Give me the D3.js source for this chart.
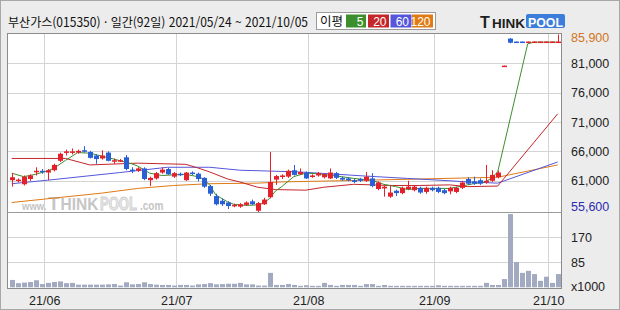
<!DOCTYPE html>
<html lang="ko">
<head>
<meta charset="utf-8">
<title>부산가스 일간</title>
<script src="https://cdn.jsdelivr.net/npm/d3@7"></script>
<style>
  body { margin: 0; background: #fff; }
  text { font-family: "Liberation Sans", Arial, sans-serif; }
  .kr { font-family: "Noto Sans CJK KR", sans-serif; }
</style>
</head>
<body>
<div id="chart"></div>
<script>
// ---- data ----
var open = [
  61100,61000,60400,61300,62500,62700,62400,62800,64400,65800,
  65800,65800,66200,65900,65300,64800,65800,64300,64300,65000,
  62900,62700,63100,61100,61400,62400,63000,61700,62200,61100,
  62400,62200,61500,60100,58400,57600,57300,56800,56600,56900,
  57500,55900,57000,58200,61200,61700,61700,62800,62100,62400,
  61700,61900,61600,61400,62300,61500,61400,61100,61300,61000,
  61400,59600,59700,58300,59300,58900,59600,59400,59800,59100,
  59800,59800,59400,59200,59100,59800,61300,60900,61100,60700,
  61000,61600,80600,85200,84700,84700,84600,84600,84600,84600,
  84600,84600];
var high = [
  62300,61400,61900,62100,63300,63000,63000,63900,65800,66300,
  66500,66300,66900,66100,65500,66200,66000,64800,64700,65400,
  63300,63300,63300,61700,62500,63300,63200,62500,62400,62500,
  62600,62400,61600,60300,58800,58000,57500,57100,57200,57500,
  57800,57400,58100,65900,62000,62100,62900,63700,63100,62600,
  62100,62500,62300,63100,62500,61700,61600,61300,61500,62500,
  62300,60900,60200,60300,59500,60000,61000,60200,60000,60000,
  60000,60000,59600,60000,60000,61000,61600,61700,61400,63700,
  62800,62700,80600,85300,84700,84700,84700,84700,84700,84700,
  84700,85900];
var low = [
  60000,60700,60200,61000,61900,62200,61100,62600,64200,65300,
  65500,65600,65800,64800,63900,64600,64300,63900,64200,62800,
  62300,62500,61100,60100,61200,62200,62000,61500,61800,61000,
  62000,60900,59800,58400,56800,56700,56200,56500,56400,56700,
  56900,55600,56900,58000,60300,61300,61500,61900,62000,61300,
  61500,61700,61400,61300,61300,61000,60900,60600,60800,60800,
  59900,59400,58300,58100,58400,58700,59400,59200,58800,58800,
  59200,58900,58700,58700,58900,59600,60300,60300,60300,60500,
  60800,61400,80600,84400,84600,84600,84600,84600,84600,84600,
  84600,84600];
var close = [
  61600,61200,61700,61900,62700,62500,62800,63700,65600,66000,
  66000,66100,66000,64900,64700,65300,64400,64500,64500,63000,
  62700,63100,61300,61500,62300,62900,62100,62300,62100,62400,
  62300,61300,60000,58800,57000,57000,56700,56900,57000,57300,
  57000,57200,57800,60800,61800,61900,62700,62000,62500,61400,
  61900,62300,62100,62400,61500,61200,61100,60800,61000,61700,
  60100,60700,60000,59000,58900,59800,60000,60000,59000,59800,
  59400,59100,58900,59800,59800,60700,60500,60500,60500,61000,
  62000,62400,80600,84500,84600,84600,84700,84700,84700,84700,
  84700,84700];
// volume in thousands
var volume = [
  25,14,16,18,24,11,15,18,20,14,
  15,9,9,9,9,9,10,11,6,17,
  10,11,17,11,9,8,8,6,8,8,
  6,10,11,14,10,11,12,12,15,10,
  10,6,6,49,8,8,11,8,5,7,
  5,5,15,8,5,8,8,8,5,11,
  11,5,8,5,5,5,5,5,5,5,
  5,7,5,5,5,5,5,5,5,15,
  8,8,28,249,86,49,56,45,22,36,
  15,45];

// moving averages: [day index, value]
var ma5 = [[0,62300],[2,61700],[4,62100],[6,62700],[7,63100],[9,64500],[11,65800],[13,65700],
  [15,65200],[17,64700],[20,63900],[21,63500],[22,62900],[23,62300],[25,61900],[27,62000],
  [29,62100],[31,61700],[32,61300],[33,60300],[34,58600],[36,57400],[37,57000],[39,56800],
  [41,56900],[42,57200],[43,58000],[44,59300],[45,60000],[47,61700],[49,62300],[51,62200],
  [55,61700],[57,61400],[60,61100],[62,60400],[64,60000],[66,59500],[68,59700],[73,59700],
  [76,60300],[77,60500],[79,60800],[80,61500],[81,62500],[86,84300],[87,84600],[91,84600]];
var ma20 = [[0,64800],[9,64800],[13,63700],[21,64000],[29,63800],[31,63200],[33,62500],
  [36,61300],[38,60800],[41,59900],[44,59500],[49,59400],[52,59900],[57,60400],[63,60200],
  [68,60200],[73,60300],[76,60000],[81,60100],[91,72400]];
var ma60 = [[0,60500],[6,61100],[18,62400],[26,63300],[33,63300],[38,62800],[48,62500],
  [59,61800],[66,61400],[73,61000],[76,60800],[81,60600],[91,64200]];
var ma120 = [[0,57300],[15,58900],[21,59700],[27,60200],[33,60500],[41,60600],[45,60800],
  [59,61100],[68,61300],[81,61600],[91,63700]];

var priceTicks = [81000, 76000, 71000, 66000, 61000];
var priceMax = 85900, priceMin = 55600;
var volTicks = [170, 85];
var monthIdx = [6, 28, 50, 71, 90];
var monthLabels = ["21/06", "21/07", "21/08", "21/09", "21/10"];
var maNames = ["5", "20", "60", "120"];
var maColors = ["#3c8f2c", "#c4262a", "#5656dc", "#e07a14"];

// ---- setup ----
var w = 620, h = 310;
var pl = 7.5, pr = 561.5, pt = 33.5, pm = 212.5, pb = 288.5;
var upColor = "#e4212b", downColor = "#2a60d6";

var svg = d3.select("#chart").append("svg")
  .attr("width", w).attr("height", h);

svg.append("rect").attr("x", 0.5).attr("y", 0.5).attr("width", w - 1).attr("height", h - 1)
  .attr("fill", "#ececec").attr("stroke", "#a8a8a8");
svg.append("rect").attr("x", pl).attr("y", pt).attr("width", pr - pl).attr("height", pb - pt)
  .attr("fill", "#fff");

var x = d3.scaleBand().domain(d3.range(close.length)).range([8.7, 560.7]).padding(0);
var cx = function(i) { return x(i) + x.bandwidth() / 2; };
var y = d3.scaleLinear().domain([priceMin, priceMax]).range([pm, 34.5]);
var yv = d3.scaleLinear().domain([0, 170]).range([287.3, 237.3]);

// gridlines
var grid = svg.append("g").attr("stroke", "#d4d4d4").attr("stroke-width", 1);
grid.selectAll(".hp").data(priceTicks).enter().append("line")
  .attr("x1", pl).attr("x2", pr)
  .attr("y1", function(d) { return Math.round(y(d)) + 0.5; })
  .attr("y2", function(d) { return Math.round(y(d)) + 0.5; });
grid.selectAll(".hv").data(volTicks).enter().append("line")
  .attr("x1", pl).attr("x2", pr)
  .attr("y1", function(d) { return Math.round(yv(d)) + 0.5; })
  .attr("y2", function(d) { return Math.round(yv(d)) + 0.5; });
grid.selectAll(".vv").data(monthIdx).enter().append("line")
  .attr("x1", function(d) { return Math.floor(x(d)) + 0.5; })
  .attr("x2", function(d) { return Math.floor(x(d)) + 0.5; })
  .attr("y1", pt).attr("y2", pb);

// watermark, pieces placed side by side (sizes chosen so they don't collide)
var wmParts = [
  {t: "www.", x: 22, size: 9.5, sy: 1.2, fill: "#c4c4c4"},
  {t: "T", x: 48, size: 19, sy: 1, fill: "#c6c6c6"},
  {t: "HINK", x: 60.5, size: 15.5, sy: 1.1, fill: "#c6c6c6"},
  {t: "POOL", x: 100, size: 13, sy: 1.35, fill: "#e8e8e8", stroke: "#cfcfcf"},
  {t: ".com", x: 140, size: 10, sy: 1.2, fill: "#c4c4c4"}
];
svg.append("g").attr("font-weight", "bold").selectAll("text").data(wmParts).enter().append("text")
  .attr("transform", function(d) { return "translate(" + d.x + ",210) scale(1," + d.sy + ")"; })
  .attr("font-size", function(d) { return d.size + "px"; })
  .attr("fill", function(d) { return d.fill; })
  .attr("stroke", function(d) { return d.stroke || "none"; })
  .attr("stroke-width", 0.7)
  .text(function(d) { return d.t; });

// moving average lines
var line = d3.line().x(function(d) { return cx(d[0]); }).y(function(d) { return y(d[1]); });
[ma120, ma60, ma20, ma5].forEach(function(s, k) {
  svg.append("path").datum(s).attr("d", line)
    .attr("fill", "none").attr("stroke", maColors[3 - k]).attr("stroke-width", 1);
});

// candles
var candles = svg.append("g").selectAll("g").data(close).enter().append("g")
  .attr("fill", function(d, i) { return close[i] >= open[i] ? upColor : downColor; })
  .attr("stroke", "none");
candles.append("rect")
  .attr("x", function(d, i) { return Math.round(cx(i)); })
  .attr("width", 1)
  .attr("y", function(d, i) { return y(high[i]); })
  .attr("height", function(d, i) { return Math.max(1, y(low[i]) - y(high[i])); });
candles.append("rect")
  .attr("x", function(d, i) { return Math.round(cx(i)) - 2; })
  .attr("width", 5)
  .attr("y", function(d, i) { return y(Math.max(open[i], close[i])); })
  .attr("height", function(d, i) { return Math.max(1.5, Math.abs(y(open[i]) - y(close[i]))); });

// volume bars
svg.append("g").selectAll("rect").data(volume).enter().append("rect")
  .attr("x", function(d, i) { return Math.round(cx(i)) - 2; })
  .attr("width", 5)
  .attr("y", function(d) { return yv(d); })
  .attr("height", function(d) { return yv(0) - yv(d); })
  .attr("fill", "#a2aac2");

// frame
svg.append("rect").attr("x", pl).attr("y", pt).attr("width", pr - pl).attr("height", pb - pt)
  .attr("fill", "none").attr("stroke", "#8c8c8c");
svg.append("line").attr("x1", pl).attr("x2", pr).attr("y1", pm).attr("y2", pm)
  .attr("stroke", "#9a9a9a");

// right axis labels
var fmt = d3.format(",");
var lab = svg.append("g").attr("font-size", "12.5px").attr("fill", "#222");
lab.selectAll(".pt").data(priceTicks).enter().append("text")
  .attr("x", 571).attr("y", function(d) { return y(d) + 4.5; }).text(fmt);
lab.append("text").attr("x", 571).attr("y", y(priceMax) + 7.5).attr("fill", "#d07522").text(fmt(priceMax));
lab.append("text").attr("x", 571).attr("y", y(priceMin) - 1.5).attr("fill", "#2b2bb0").text(fmt(priceMin));
lab.selectAll(".vt").data(volTicks).enter().append("text")
  .attr("x", 571).attr("y", function(d) { return yv(d) + 5; }).text(function(d) { return d; });
lab.append("text").attr("x", 571).attr("y", 291).text("x1000");

// month labels
svg.append("g").attr("font-size", "12.5px").attr("fill", "#222").attr("text-anchor", "middle")
  .selectAll("text").data(monthIdx).enter().append("text")
  .attr("x", function(d) { return x(d); }).attr("y", 305)
  .text(function(d, i) { return monthLabels[i]; });

// header
svg.append("text").attr("class", "kr").attr("x", 8).attr("y", 26.5)
  .attr("font-size", "12.5px").attr("fill", "#111")
  .attr("textLength", 300).attr("lengthAdjust", "spacingAndGlyphs")
  .text("부산가스(015350) · 일간(92일) 2021/05/24 ~ 2021/10/05");

// MA legend
svg.append("rect").attr("x", 316.5).attr("y", 12.5).attr("width", 119).attr("height", 17)
  .attr("fill", "#fff").attr("stroke", "#9a9a9a");
svg.append("text").attr("class", "kr").attr("x", 320).attr("y", 26)
  .attr("font-size", "12.5px").attr("fill", "#111").text("이평");
var boxX = [346, 368, 390.5, 412], boxW = [20, 21, 21, 21];
var leg = svg.append("g").selectAll("g").data(maNames).enter().append("g");
leg.append("rect").attr("x", function(d, i) { return boxX[i]; }).attr("y", 14.5)
  .attr("width", function(d, i) { return boxW[i]; }).attr("height", 13)
  .attr("fill", function(d, i) { return maColors[i]; });
leg.append("text").attr("x", function(d, i) { return boxX[i] + boxW[i] - 2.5; }).attr("y", 25.5)
  .attr("text-anchor", "end").attr("font-size", "12px").attr("fill", "#fff").text(function(d) { return d; });

// logo
var logo = svg.append("g").attr("font-weight", "bold");
logo.append("rect").attr("x", 526).attr("y", 14).attr("width", 39).attr("height", 14)
  .attr("rx", 2).attr("fill", "#3b7ddb");
logo.append("text").attr("x", 480).attr("y", 27.5).attr("fill", "#1e1e1e")
  .attr("font-size", "16px").text("T");
logo.append("text").attr("x", 492).attr("y", 27.5).attr("fill", "#1e1e1e")
  .attr("font-size", "13px").attr("textLength", 33).attr("lengthAdjust", "spacingAndGlyphs")
  .text("HINK");
logo.append("text").attr("x", 545.5).attr("y", 26.5).attr("text-anchor", "middle")
  .attr("font-size", "13px").attr("fill", "#fff")
  .attr("textLength", 35).attr("lengthAdjust", "spacingAndGlyphs").text("POOL");
</script>
</body>
</html>
